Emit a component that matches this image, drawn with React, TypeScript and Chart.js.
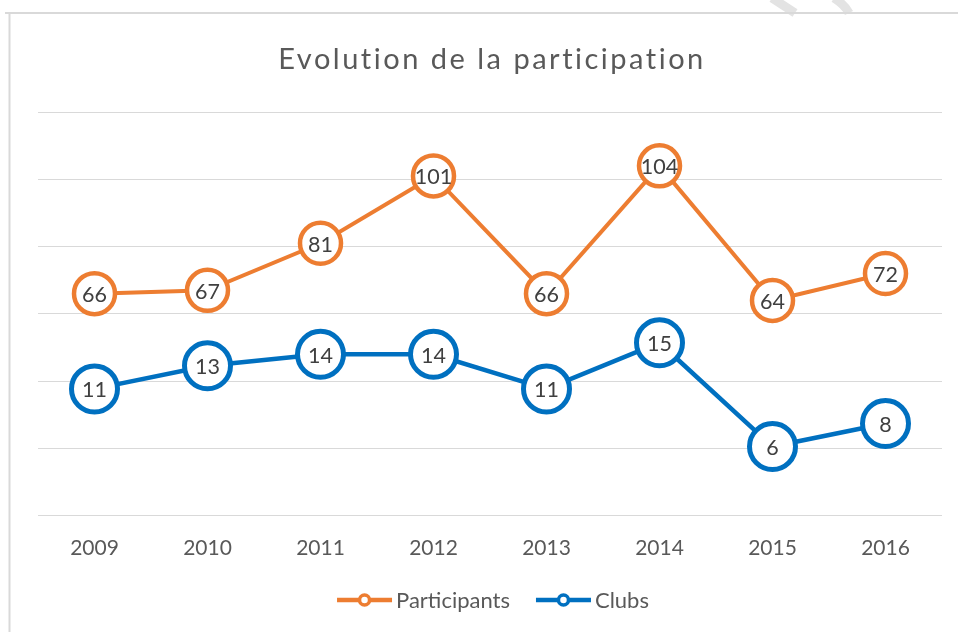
import React, { useEffect, useRef } from "react";
import { Chart, registerables } from "chart.js";

Chart.register(...registerables);

const years = ["2009", "2010", "2011", "2012", "2013", "2014", "2015", "2016"];
const participants = [66, 67, 81, 101, 66, 104, 64, 72];
const clubs = [11, 13, 14, 14, 11, 15, 6, 8];
const titleText = "Evolution de la participation";
const participantsLabel = "Participants";
const clubsLabel = "Clubs";

const ORANGE = "#ED7D31";
const BLUE = "#0070C0";
const FONT = "Lato";

const framePlugin = {
  id: "frame",
  beforeDraw(chart: any) {
    const ctx = chart.ctx;
    ctx.save();
    ctx.fillStyle = "#ffffff";
    ctx.fillRect(0, 0, chart.width, chart.height);
    // faint watermark strokes at top right
    ctx.strokeStyle = "#e3e3e3";
    ctx.lineWidth = 9;
    ctx.beginPath();
    ctx.moveTo(772, -2);
    ctx.lineTo(795, 13);
    ctx.stroke();
    ctx.beginPath();
    ctx.moveTo(834, -2);
    ctx.quadraticCurveTo(845, 5, 849, 13);
    ctx.stroke();
    // frame
    ctx.strokeStyle = "#d9d9d9";
    ctx.lineWidth = 2;
    ctx.beginPath();
    ctx.moveTo(5, 13);
    ctx.lineTo(chart.width, 13);
    ctx.moveTo(9.5, 12);
    ctx.lineTo(9.5, chart.height);
    ctx.stroke();
    // title
    ctx.fillStyle = "#595959";
    ctx.font = `29px ${FONT}`;
    (ctx as any).letterSpacing = "2.5px";
    ctx.textAlign = "center";
    ctx.textBaseline = "alphabetic";
    ctx.fillText(titleText, 492, 69);
    ctx.restore();
  },
};

const labelPlugin = {
  id: "valueLabels",
  afterDatasetsDraw(chart: any) {
    const ctx = chart.ctx;
    ctx.save();
    ctx.font = `21.5px ${FONT}`;
    ctx.fillStyle = "#404040";
    ctx.textAlign = "center";
    ctx.textBaseline = "alphabetic";
    chart.data.datasets.forEach((ds: any, i: number) => {
      const meta = chart.getDatasetMeta(i);
      meta.data.forEach((pt: any, j: number) => {
        ctx.fillText(String(ds.data[j]), pt.x, pt.y + 8.5);
      });
    });
    ctx.restore();
  },
};

const legendPlugin = {
  id: "customLegend",
  afterDraw(chart: any) {
    const ctx = chart.ctx;
    ctx.save();
    ctx.font = `22px ${FONT}`;
    ctx.textBaseline = "alphabetic";
    ctx.textAlign = "left";
    const lineLen = 55;
    const gapText = 4;
    const gapItems = 26;
    const items = chart.data.datasets.map((ds: any) => ({
      label: ds.label,
      color: ds.borderColor,
      w: ctx.measureText(ds.label).width,
    }));
    const total =
      items.reduce((s: number, it: any) => s + lineLen + gapText + it.w, 0) +
      gapItems * (items.length - 1);
    let x = 493 - total / 2;
    const cy = 600;
    items.forEach((it: any) => {
      ctx.strokeStyle = it.color;
      ctx.lineWidth = 4.5;
      ctx.beginPath();
      ctx.moveTo(x, cy);
      ctx.lineTo(x + lineLen, cy);
      ctx.stroke();
      ctx.beginPath();
      ctx.arc(x + lineLen / 2, cy, 5, 0, Math.PI * 2);
      ctx.fillStyle = "#ffffff";
      ctx.fill();
      ctx.lineWidth = 3.5;
      ctx.stroke();
      ctx.fillStyle = "#595959";
      ctx.fillText(it.label, x + lineLen + gapText, cy + 8);
      x += lineLen + gapText + it.w + gapItems;
    });
    ctx.restore();
  },
};

export default function App() {
  const ref = useRef<HTMLCanvasElement>(null);
  useEffect(() => {
    if (!ref.current) return;
    const chart = new Chart(ref.current, {
      type: "line",
      data: {
        labels: years,
        datasets: [
          {
            label: participantsLabel,
            data: participants,
            yAxisID: "y",
            borderColor: ORANGE,
            backgroundColor: "#ffffff",
            borderWidth: 4,
            pointRadius: 20.5,
            pointHoverRadius: 20.5,
            pointBorderWidth: 4.5,
            pointBackgroundColor: "#ffffff",
            pointBorderColor: ORANGE,
            tension: 0,
            clip: false,
          },
          {
            label: clubsLabel,
            data: clubs,
            yAxisID: "y1",
            borderColor: BLUE,
            backgroundColor: "#ffffff",
            borderWidth: 4.5,
            pointRadius: 23,
            pointHoverRadius: 23,
            pointBorderWidth: 5,
            pointBackgroundColor: "#ffffff",
            pointBorderColor: BLUE,
            tension: 0,
            clip: false,
          },
        ],
      },
      options: {
        responsive: false,
        animation: false,
        devicePixelRatio: 1,
        layout: { autoPadding: false, padding: { left: 38, right: 16, top: 112, bottom: 51 } },
        plugins: {
          legend: { display: false },
          title: { display: false },
          tooltip: { enabled: false },
        },
        scales: {
          x: {
            offset: true,
            grid: { display: false, drawTicks: false },
            border: { display: false },
            ticks: {
              color: "#595959",
              font: { family: FONT, size: 21 },
              padding: 20,
              maxRotation: 0,
            },
            afterFit: (scale: any) => {
              scale.paddingLeft = 0;
              scale.paddingRight = 0;
            },
          },
          y: {
            min: 0,
            max: 120,
            ticks: { display: false, stepSize: 20 },
            grid: { color: "#d9d9d9", lineWidth: 1, drawTicks: false },
            border: { display: false },
          },
          y1: {
            display: false,
            min: 0,
            max: 35,
            grid: { display: false },
          },
        },
      },
      plugins: [framePlugin, labelPlugin, legendPlugin],
    });
    return () => chart.destroy();
  }, []);
  return (
    <div style={{ position: "fixed", left: 0, top: 0, width: 958, height: 632, background: "#fff" }}>
      <canvas ref={ref} width={958} height={632} style={{ display: "block" }} />
    </div>
  );
}
